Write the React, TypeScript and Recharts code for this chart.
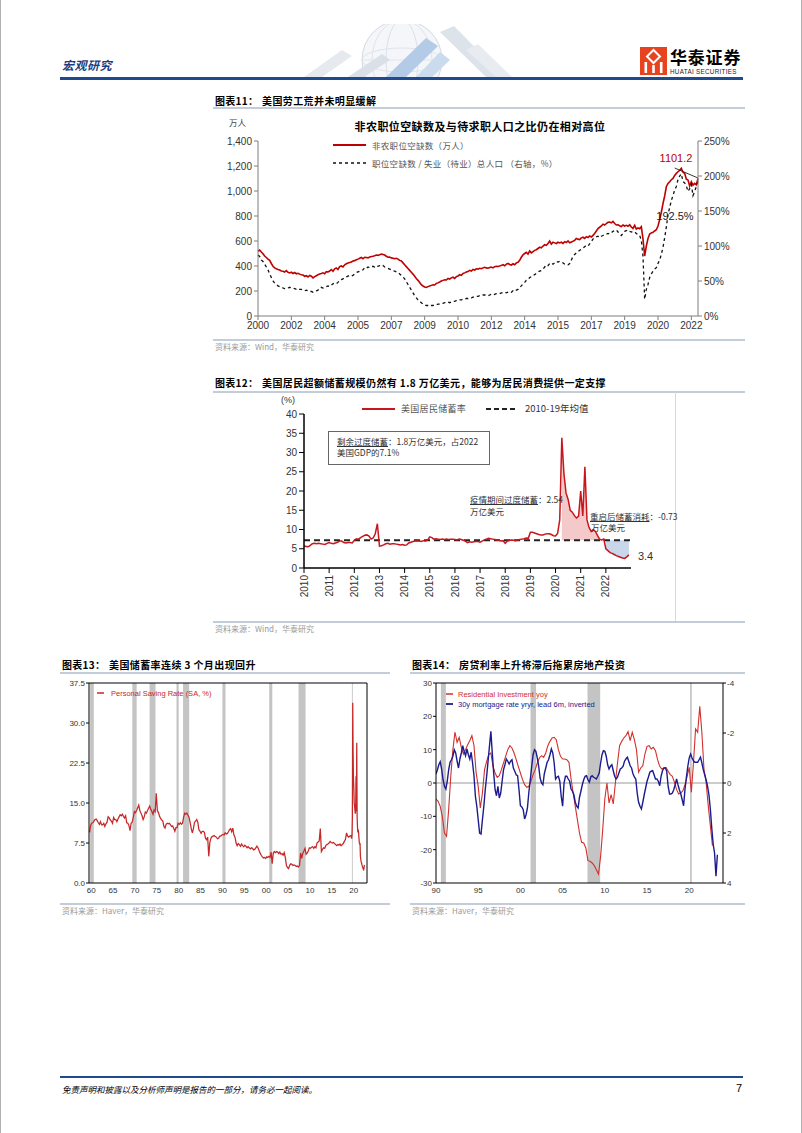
import React from 'react';
import { LineChart, ComposedChart, Line, Area, XAxis, YAxis, ReferenceLine, ReferenceArea, ReferenceDot } from 'recharts';

const CJK = '"Noto Sans CJK SC", "Noto Sans", sans-serif';
const ARIAL = '"Liberation Sans", Arial, Helvetica, sans-serif';

// ---------------- Chart 11: JOLTS openings (万人) & openings / unemployed (%) ----------------
// monthly, index 0 = 2000-12 ... index 264 = 2022-12
const c11Labels = ['2000', '2002', '2004', '2005', '2007', '2009', '2010', '2012', '2014', '2015', '2017', '2019', '2020', '2022'];
const c11Openings = [
  518,
  528, 512, 498, 480, 468, 455, 445, 420, 398, 385, 378, 372,
  368, 360, 358, 352, 363, 350, 345, 350, 340, 348, 338, 342,
  335, 330, 328, 318, 322, 312, 325, 318, 305, 315, 322, 330,
  336, 340, 345, 338, 355, 352, 360, 372, 358, 378, 385, 372,
  395, 400, 392, 410, 418, 424, 428, 432, 440, 443, 450, 455,
  462, 468, 458, 470, 468, 465, 472, 476, 478, 482, 488, 485,
  490, 495, 492, 488, 478, 470, 472, 465, 462, 458, 462, 455,
  445, 440, 425, 410, 395, 380, 365, 350, 335, 318, 300, 285,
  268, 250, 240, 232, 228, 235, 240, 245, 250, 248, 260, 265,
  272, 280, 285, 290, 288, 300, 296, 305, 310, 300, 315, 320,
  330, 325, 340, 345, 352, 355, 365, 360, 372, 368, 378, 375,
  382, 378, 385, 390, 385, 382, 388, 392, 385, 395, 398, 396,
  400, 405, 410, 402, 415, 420, 412, 408, 418, 410, 425, 430,
  445, 470, 490, 500, 510, 495, 520, 505, 515, 525, 530, 540,
  550, 545, 560, 570, 565, 580, 600, 575, 590, 585, 580, 590,
  585, 590, 580, 595, 588, 600, 585, 592, 598, 605, 620, 615,
  612, 625, 630, 620, 635, 628, 640, 632, 645, 660, 680, 700,
  710, 720, 735, 728, 740, 750, 752, 745, 757, 740, 728, 730,
  722, 715, 728, 720, 725, 718, 730, 712, 700, 725, 695, 705,
  698, 715, 616, 480, 560, 620, 656, 665, 669, 680, 690, 720,
  770, 830, 900, 960, 1034, 1060, 1074, 1090, 1101, 1125, 1141, 1154,
  1165, 1181, 1150, 1141, 1095, 1088, 1040, 1074, 1047, 1061, 1050, 1101.2,
];
const c11Ratio = [
  87,
  85, 80, 78, 74, 70, 66, 60, 55, 50, 47, 45, 43,
  42, 41, 40, 39, 39, 40, 41, 40, 40, 39, 38, 39,
  38, 38, 37, 36, 37, 36, 35, 35, 34, 35, 36, 37,
  40, 41, 40, 41, 42, 43, 42, 44, 46, 47, 46, 48,
  51, 52, 53, 55, 56, 57, 58, 57, 58, 60, 62, 63,
  64, 65, 66, 69, 68, 70, 69, 70, 71, 70, 72, 71,
  72, 71, 72, 70, 69, 68, 67, 66, 65, 64, 63, 62,
  60, 58, 56, 53, 49, 45, 41, 37, 33, 29, 26, 23,
  21, 19, 17, 16, 15, 15, 14, 15, 15, 16, 16, 17,
  17, 18, 18, 19, 19, 20, 19, 20, 21, 21, 22, 22,
  23, 23, 24, 24, 25, 25, 26, 26, 27, 27, 28, 28,
  29, 29, 30, 30, 30, 29, 30, 31, 30, 31, 32, 32,
  32, 33, 33, 34, 33, 34, 35, 34, 36, 35, 37, 38,
  41, 43, 46, 48, 51, 52, 55, 56, 58, 59, 61, 63,
  64, 65, 67, 70, 73, 72, 75, 76, 74, 76, 78, 77,
  78, 77, 76, 74, 73, 73, 75, 80, 85, 88, 90, 92,
  94, 95, 97, 99, 101, 100, 103, 106, 110, 111, 113, 114,
  112, 114, 115, 116, 117, 118, 117, 119, 121, 122, 123, 120,
  117, 115, 118, 121, 122, 123, 121, 120, 121, 120, 118, 116,
  115, 108, 85, 24, 38, 45, 55, 60, 64, 67, 69, 75,
  80, 88, 98, 112, 127, 145, 155, 165, 172, 180, 185, 195,
  200, 203, 192, 190, 186, 178, 182, 188, 172, 178, 185, 192.5,
];
const c11Data = c11Openings.map((v, i) => ({ i, v, r: c11Ratio[i] }));

// ---------------- Chart 12: US personal saving rate, monthly 2010-01 .. 2022-12 ----------------
const c12Years = ['2010', '2011', '2012', '2013', '2014', '2015', '2016', '2017', '2018', '2019', '2020', '2021', '2022'];
const c12Rate = [
  5.7, 5.6, 5.5, 5.9, 6.3, 6.4, 6.3, 6.4, 6.3, 6.2, 6.1, 6.4,
  6.6, 6.4, 6.3, 6.5, 6.7, 7.0, 7.0, 6.6, 6.5, 6.6, 6.6, 6.5,
  7.2, 7.6, 7.5, 7.9, 8.2, 8.5, 8.6, 8.3, 7.5, 7.8, 8.9, 11.5,
  5.7, 5.8, 6.0, 6.3, 6.4, 6.2, 6.3, 6.3, 6.2, 6.1, 6.0, 6.1,
  5.9, 6.0, 6.5, 6.7, 6.9, 7.0, 7.0, 7.0, 6.9, 7.1, 7.0, 7.3,
  8.1, 7.9, 7.5, 7.6, 7.5, 7.4, 7.5, 7.4, 7.5, 7.4, 7.5, 7.5,
  7.4, 7.3, 7.5, 7.4, 7.2, 7.0, 6.6, 6.8, 6.7, 6.8, 6.9, 6.9,
  6.7, 7.0, 7.3, 7.5, 7.7, 7.6, 7.5, 7.4, 7.3, 7.2, 7.0, 7.1,
  6.4, 7.0, 7.2, 7.3, 7.2, 7.1, 7.3, 7.4, 7.5, 7.6, 7.8, 7.7,
  9.3, 9.3, 9.1, 8.9, 8.7, 8.6, 8.6, 8.8, 8.9, 8.9, 8.7, 8.4,
  8.3, 9.0, 12.5, 33.8, 24.5, 19.5, 17.8, 15.0, 14.5, 13.6, 13.0, 13.5,
  20.0, 13.5, 26.3, 12.5, 10.5, 9.5, 10.0, 9.5, 8.5, 7.5, 7.3, 7.5,
  5.0, 4.5, 4.0, 3.8, 3.5, 3.2, 3.0, 2.8, 2.6, 2.5, 2.9, 3.4,
];
const c12Mean = c12Rate.slice(0, 120).reduce((a, b) => a + b, 0) / 120;
const c12ExcessStart = 123; // 2020-04
const c12ExcessEnd = 143; // 2021-12
const c12DrawStart = 144; // 2022-01
const c12Data = c12Rate.map((v, i) => ({
  i,
  v,
  hi: i >= c12ExcessStart && i <= c12ExcessEnd ? [c12Mean, v] : null,
  lo: i >= c12DrawStart ? [v, c12Mean] : null,
}));

// ---------------- Chart 13: Personal saving rate 1960-2022 ----------------
const c13Quarterly = [
  9.5, 10.8, 11.2, 11.3, 11.6, 11.9, 12.0, 11.7, 11.3, 11.0, 11.5, 10.9, 10.9, 11.2, 10.6, 11.1,
  11.4, 12.4, 12.2, 11.8, 11.6, 11.2, 12.3, 11.9, 11.9, 11.5, 12.0, 12.4, 12.8, 12.6, 12.9, 12.5,
  12.2, 12.6, 11.3, 11.2, 10.8, 9.8, 11.2, 11.4, 12.3, 13.4, 13.2, 13.6, 14.1, 14.6, 13.6, 13.1,
  12.6, 11.9, 12.4, 13.3, 13.1, 13.6, 14.0, 14.4, 13.8, 13.4, 12.9, 13.7, 13.4, 16.8, 13.6, 13.2,
  12.5, 12.1, 11.8, 11.6, 10.6, 10.3, 11.0, 11.2, 11.1, 11.2, 10.9, 10.6, 10.7, 10.2, 9.7, 10.4,
  10.4, 11.2, 11.0, 11.3, 11.0, 11.2, 12.3, 13.1, 12.9, 13.1, 12.7, 12.3, 11.3, 10.2, 9.4, 10.2,
  11.4, 11.6, 11.9, 11.4, 10.0, 9.7, 9.3, 9.7, 9.7, 9.5, 8.4, 8.1, 8.6, 5.0, 7.6, 8.4,
  8.7, 8.8, 8.9, 8.7, 8.6, 8.3, 8.4, 8.8, 8.8, 9.0, 9.1, 9.0, 9.4, 9.2, 9.3, 9.6,
  10.0, 10.2, 9.6, 10.3, 9.0, 8.6, 7.5, 7.0, 7.4, 7.2, 6.9, 7.3, 7.0, 6.8, 7.1, 6.9,
  6.6, 6.8, 6.6, 6.4, 6.6, 6.5, 6.2, 6.3, 6.6, 6.9, 6.6, 6.1, 5.6, 5.2, 4.9, 4.7,
  4.8, 4.6, 4.9, 4.8, 5.0, 4.8, 5.8, 3.6, 5.6, 5.9, 5.7, 5.9, 5.8, 5.5, 5.8, 5.4,
  5.5, 5.2, 5.7, 4.8, 3.3, 2.9, 2.7, 3.3, 3.6, 3.5, 3.3, 3.4, 3.3, 3.1, 3.2, 3.0,
  3.3, 5.6, 4.6, 5.6, 6.0, 6.5, 5.4, 5.6, 6.0, 6.6, 6.5, 6.7, 6.8, 6.5, 6.8, 6.6,
  7.5, 7.7, 7.9, 10.2, 5.9, 6.3, 6.6, 6.5, 7.0, 7.2, 7.3, 7.5, 7.8, 7.6, 7.5, 7.6,
  7.4, 7.2, 7.0, 7.2, 7.1, 7.3, 7.0, 7.2, 7.4, 7.8, 8.2, 9.4, 8.8, 8.6, 8.8, 8.9,
];
const c13Monthly2020 = [
  8.3, 9.0, 12.5, 33.8, 24.5, 19.5, 17.8, 15.0, 14.5, 13.6, 13.0, 13.5,
  20.0, 13.5, 26.3, 12.5, 10.5, 9.5, 10.0, 9.5, 8.5, 7.5, 7.3, 7.5,
  5.0, 4.5, 4.0, 3.8, 3.5, 3.2, 3.0, 2.8, 2.6, 2.5, 2.9, 3.4,
];
const c13Data = [
  ...c13Quarterly.map((v, k) => ({ x: 1960 + k * 0.25 + 0.125, v })),
  ...c13Monthly2020.map((v, m) => ({ x: 2020 + (m + 0.5) / 12, v })),
];
const c13Recessions = [[1960.25, 1961.1], [1969.9, 1970.9], [1973.85, 1975.2], [1980.0, 1980.5], [1981.5, 1982.9], [1990.5, 1991.2], [2001.2, 2001.9], [2007.9, 2009.5], [2020.1, 2020.3]];
const c13Ticks = [1960, 1965, 1970, 1975, 1980, 1985, 1990, 1995, 2000, 2005, 2010, 2015, 2020];

// ---------------- Chart 14: residential investment yoy (quarterly) & 30y mortgage rate yryr (bi-monthly) ----------------
const c14ResInv = [
  -4.8, -5.5, -7, -10, -15, -16, -8, 2, 10, 15.3, 12.2, 13.7, 10.7, 8.7, 10, 11.5,
  12.7, 14.2, 11.2, 3.2, -1, -7.5, -3, 4, 6.5, 8.5, 9, 5, 3, 1.7, 2.2, 4,
  6, 8, 10, 11.2, 10.5, 9, 7, 5, 3, 1, -0.5, -1.3, -1, 0.5, 2.5, 4,
  6, 7.5, 8.2, 7.7, 9, 11.2, 12.5, 13.5, 13.7, 13, 10, 8, 7.2, 7.2, 7, 6.2,
  1.2, -3, -7, -11, -15, -17.8, -18, -19.5, -23.3, -23.5, -24, -24.8, -26, -27.3, -22, -14,
  -4.8, 0, -6, -3.5, -6.3, 0, 6, 11.2, 12.5, 13.5, 14.2, 15.4, 12.7, 15.2, 13, 10,
  3.2, 4.5, 5.2, 8.7, 11, 11.2, 10.2, 10.7, 9.7, 7, 5, 4.2, 4.5, 4.7, 3.5, 2.5,
  2, 0.2, -2, -3.3, -3, -2.3, -0.5, 2, 4.7, -2.8, 6, 16.2, 15.2, 23, 15, 4,
  0.2, -6.8, -12.8, -18.8,
];
// year-over-year change of the 30y mortgage rate (pct pts), led 6 months, every 2 months from 1990
const c14Mortgage = [
  -0.36, -0.53, -0.73, -0.85, -0.56, -0.13,
  0.13, 0.24, -0.07, -0.53, -0.83, -0.93,
  -1.07, -1.33, -1.2, -0.87, -0.6, -0.96,
  -1.2, -1.49, -1.27, -1.09, -1.36, -1.13,
  -0.96, -1.23, -0.8, -0.29, 0.53, 0.93,
  1.47, 2, 2.04, 1.47, 0.93, 0.27,
  -0.27, -0.87, -1.47, -2.07, -1.2, -0.4,
  0.27, 0.51, 0.13, 0.6, 0.4, -0.07,
  -0.53, -0.73, -0.96, -0.87, -0.76, -0.87,
  -0.93, -0.6, -0.47, -0.33, -0.29, 0.27,
  0.91, 0.96, 1.07, 1.44, 1.27, 1,
  0.37, -0.13, -0.64, -1.13, -1.33, -1.27,
  -1, -0.67, -0.2, 0, 0.07, -0.37,
  -0.6, -0.83, -0.93, -1.13, -1.36, -1.2,
  -0.8, -0.16, -0.24, -0.27, -0.07, 0.53,
  0.93, 0, -0.27, -0.27, -0.16, -0.07,
  0.24, 0.33, 0.47, 0.77, 0.93, 1,
  0.57, 0.33, 0.07, -0.13, -0.27, -0.29,
  -0.13, -0.03, -0.24, -0.29, -0.23, -0.2,
  -0.16, -0.27, -0.4, -0.8, -1.13, -1.29,
  -1.27, -1.07, -0.73, -0.56, -0.67, -0.73,
  -0.49, -0.27, -0.16, -0.23, -0.4, -0.56,
  -0.6, -0.67, -0.87, -0.96, -1.03, -0.87,
  -0.69, -0.6, -0.37, -0.24, -0.16, 0.4,
  0.77, 0.93, 1.04, 0.77, 0.47, 0.2,
  -0.07, -0.24, -0.43, -0.47, -0.49, -0.33,
  -0.16, -0.16, -0.07, 0.11, -0.27, -0.49,
  -0.6, -0.6, -0.47, 0.13, 0.44, 0.44,
  0.4, 0.27, 0.07, -0.16, 0.07, 0.27,
  0.44, 0.67, 0.91, 0.24, -0.24, -0.67,
  -1, -1.16, -1, -0.89, -0.83, -0.83,
  -0.83, -0.93, -1.03, -0.8, -0.53, -0.33,
  -0.13, 0.13, 0.47, 1.04, 1.8, 2.44,
  2.8, 3.73, 2.87,
];
const c14ResData = c14ResInv.map((v, k) => ({ x: 1990 + k * 0.25, v }));
const c14MortData = c14Mortgage.map((m, k) => ({ x: 1990 + k / 6, m }));
const c14Recessions = [[1990.58, 1991.17], [2001.2, 2001.85], [2007.95, 2009.45], [2020.1, 2020.3]];
const c14Ticks = [1990, 1995, 2000, 2005, 2010, 2015, 2020];

// ---------------- helpers ----------------
function Txt({ x, y, size = 10, color = '#000', bold = false, italic = false, font = CJK, anchor = 'start', ls = 0, children }: any) {
  const style: any = {
    position: 'absolute',
    top: y - size * 0.6,
    fontSize: size,
    lineHeight: `${size * 1.2}px`,
    color,
    fontWeight: bold ? 700 : 400,
    fontStyle: italic ? 'italic' : 'normal',
    fontFamily: font,
    whiteSpace: 'nowrap',
    letterSpacing: ls,
  };
  if (anchor === 'start') style.left = x;
  else if (anchor === 'end') style.right = 802 - x;
  else { style.left = x; style.transform = 'translateX(-50%)'; }
  return <div style={style}>{children}</div>;
}

function Rule({ x, y, w, h = 1.5, color = '#c3cdd9' }: any) {
  return <div style={{ position: 'absolute', left: x, top: y, width: w, height: h, background: color }} />;
}

function Title({ x, y, num, text }: any) {
  return (
    <>
      <Txt x={x} y={y} size={10} bold ls={0.3}>{`图表${num}：`}</Txt>
      <Txt x={x + 47} y={y} size={10} bold ls={0.4}>{text}</Txt>
    </>
  );
}

function LegLine({ x, y, w, color, dash, width = 2 }: any) {
  return (
    <svg style={{ position: 'absolute', left: x, top: y - 3 }} width={w} height={6}>
      <line x1={0} y1={3} x2={w} y2={3} stroke={color} strokeWidth={width} strokeDasharray={dash} />
    </svg>
  );
}

const annot = (text: string, dx: number, dy: number, color: string, size = 11, anchor = 'middle') => (props: any) => {
  const vb = props.viewBox || {};
  const x = (vb.x ?? 0) + (vb.width ?? 0) / 2 + dx;
  const y = (vb.y ?? 0) + (vb.height ?? 0) / 2 + dy;
  return (
    <text x={x} y={y} dy="0.35em" textAnchor={anchor} fill={color} fontSize={size} fontFamily={ARIAL}>
      {text}
    </text>
  );
};

// ---------------- header / footer ----------------
function Header() {
  return (
    <>
      <div style={{ position: 'absolute', left: 0, top: 0, width: 1, height: 1133, background: '#b0b0b0' }} />
      <div style={{ position: 'absolute', left: 801, top: 0, width: 1, height: 1133, background: '#b0b0b0' }} />
      <svg style={{ position: 'absolute', left: 290, top: 24 }} width={240} height={54}>
        <defs>
          <clipPath id="hdrclip"><rect x={0} y={0} width={240} height={53} /></clipPath>
        </defs>
        <g clipPath="url(#hdrclip)">
          <circle cx={112} cy={36} r={40} fill="#f4f6f9" stroke="#d3d9e1" />
          <ellipse cx={112} cy={36} rx={16} ry={40} fill="none" stroke="#dce1e7" />
          <ellipse cx={112} cy={36} rx={30} ry={40} fill="none" stroke="#e0e4ea" />
          <ellipse cx={112} cy={36} rx={40} ry={12} fill="none" stroke="#e0e4ea" />
          <line x1={72} y1={36} x2={152} y2={36} stroke="#e0e4ea" />
          <polygon points="14,53 52,26 62,32 32,53" fill="#e6eaef" />
          <polygon points="58,53 92,30 100,36 74,53" fill="#dae0e8" />
          <polygon points="96,53 136,14 148,22 116,53" fill="#b3cbe7" />
          <polygon points="126,53 150,28 160,36 142,53" fill="#cadbee" />
          <polygon points="150,8 196,53 214,53 164,2" fill="#dde3ea" />
          <polygon points="176,26 206,53 222,53 188,20" fill="#e8ecf1" />
        </g>
      </svg>
      <Txt x={62} y={65} size={12} bold italic color="#1d3d7d" ls={0.5}>宏观研究</Txt>
      <svg style={{ position: 'absolute', left: 639, top: 46 }} width={29} height={30}>
        <rect x={1} y={1} width={27} height={28} fill="#e8431f" />
        <polygon points="14.5,4 21,10.5 14.5,17 8,10.5" fill="none" stroke="#fff" strokeWidth={2} />
        <rect x={5.5} y={16} width={2.6} height={11} fill="#fff" />
        <rect x={13.2} y={19} width={2.6} height={8} fill="#fff" />
        <rect x={20.9} y={16} width={2.6} height={11} fill="#fff" />
      </svg>
      <Txt x={670} y={57.5} size={17} bold ls={0.8}>华泰证券</Txt>
      <Txt x={670} y={71.5} size={6.3} font={ARIAL} ls={0.3} color="#222">HUATAI SECURITIES</Txt>
      <Rule x={60} y={77} w={683} h={2.5} color="#1f4b8e" />
    </>
  );
}

function Footer() {
  return (
    <>
      <Rule x={60} y={1076} w={683} h={2} color="#1f4b8e" />
      <Txt x={62} y={1089} size={8.5} italic>免责声明和披露以及分析师声明是报告的一部分，请务必一起阅读。</Txt>
      <Txt x={742} y={1089} size={11} font={ARIAL} anchor="end">7</Txt>
    </>
  );
}

// ---------------- chart 11 ----------------
function Chart11() {
  const ticks = c11Labels.map((_, k) => k * 20);
  const last = c11Data.length - 1;
  const axisTick = { fill: '#333', fontSize: 10, fontFamily: ARIAL };
  return (
    <>
      <Title x={215} y={101} num="11" text="美国劳工荒并未明显缓解" />
      <Rule x={213} y={107} w={532} />
      <div style={{ position: 'absolute', left: 200, top: 110 }}>
        <LineChart width={560} height={240} data={c11Data} margin={{ top: 31, right: 0, bottom: 0, left: 0 }}>
          <XAxis dataKey="i" type="number" domain={[0, last]} ticks={ticks} interval={0} height={34}
            tickFormatter={(v: number) => c11Labels[Math.round(v / 20)]} stroke="#7f7f7f" tickSize={4} tick={axisTick} />
          <YAxis yAxisId="l" domain={[0, 1400]} ticks={[0, 200, 400, 600, 800, 1000, 1200, 1400]} width={58}
            tickFormatter={(v: number) => v.toLocaleString('en-US')} stroke="#7f7f7f" tickSize={4} tick={axisTick} />
          <YAxis yAxisId="r" orientation="right" domain={[0, 250]} ticks={[0, 50, 100, 150, 200, 250]} width={62}
            tickFormatter={(v: number) => `${v}%`} stroke="#7f7f7f" tickSize={4} tick={axisTick} />
          <Line yAxisId="l" dataKey="v" stroke="#c00000" strokeWidth={1.6} dot={false} isAnimationActive={false} />
          <Line yAxisId="r" dataKey="r" stroke="#111" strokeWidth={1.3} strokeDasharray="3 3" dot={false} isAnimationActive={false} />
          <ReferenceLine yAxisId="l" segment={[{ x: 250, y: 1184 }, { x: last, y: 1104 }]} stroke="#222" strokeWidth={0.9} />
          <ReferenceDot yAxisId="l" x={last} y={c11Openings[last]} r={0.01} fill="none" stroke="none"
            label={annot(String(c11Openings[last]), -22, -20, '#c00000', 11)} />
          <ReferenceDot yAxisId="r" x={last} y={c11Ratio[last]} r={0.01} fill="none" stroke="none"
            label={annot(`${c11Ratio[last]}%`, -23, 35, '#222', 11)} />
        </LineChart>
      </div>
      <Txt x={229} y={122} size={8.5} color="#444">万人</Txt>
      <Txt x={480} y={127} size={11} bold anchor="middle" ls={0.4}>非农职位空缺数及与待求职人口之比仍在相对高位</Txt>
      <LegLine x={333} y={145} w={33} color="#c00000" width={2} />
      <Txt x={372} y={145} size={8.5} color="#555" ls={0.3}>非农职位空缺数（万人）</Txt>
      <LegLine x={333} y={163} w={33} color="#111" dash="3 3" width={1.3} />
      <Txt x={372} y={163} size={8.5} color="#555" ls={0.3}>职位空缺数 / 失业（待业）总人口 （右轴，%）</Txt>
      <Rule x={213} y={339} w={532} />
      <Txt x={215} y={347} size={8} color="#9a9a9a">资料来源：Wind，华泰研究</Txt>
    </>
  );
}

// ---------------- chart 12 ----------------
function RotTick(props: any) {
  const { x, y, payload } = props;
  return (
    <text x={x} y={y} transform={`rotate(-90 ${x} ${y})`} textAnchor="end" dy={3.6} fontSize={10} fill="#333" fontFamily={ARIAL}>
      {c12Years[Math.round(payload.value / 12)]}
    </text>
  );
}

function Chart12() {
  const last = c12Data.length - 1;
  return (
    <>
      <Title x={215} y={383} num="12" text="美国居民超额储蓄规模仍然有 1.8 万亿美元，能够为居民消费提供一定支撑" />
      <Rule x={213} y={391} w={532} />
      <div style={{ position: 'absolute', left: 675, top: 392, width: 1, height: 229, background: '#d5d9de' }} />
      <div style={{ position: 'absolute', left: 240, top: 395 }}>
        <ComposedChart width={420} height={220} data={c12Data} margin={{ top: 19, right: 29, bottom: 0, left: 0 }}>
          <XAxis dataKey="i" type="number" domain={[0, 156]} ticks={c12Years.map((_, k) => k * 12)} interval={0} height={47}
            tick={<RotTick />} tickSize={5} axisLine={{ stroke: '#000', strokeWidth: 1.5 }} tickLine={{ stroke: '#000' }} />
          <YAxis domain={[0, 40]} ticks={[0, 5, 10, 15, 20, 25, 30, 35, 40]} width={64} tickSize={5}
            axisLine={{ stroke: '#000', strokeWidth: 1.5 }} tickLine={{ stroke: '#000' }}
            tick={{ fill: '#333', fontSize: 10, fontFamily: ARIAL }} />
          <Area dataKey="hi" fill="#f3c3c3" fillOpacity={0.9} stroke="none" isAnimationActive={false} connectNulls={false} />
          <Area dataKey="lo" fill="#c8d8ea" fillOpacity={1} stroke="none" isAnimationActive={false} connectNulls={false} />
          <ReferenceLine y={c12Mean} stroke="#222" strokeWidth={2} strokeDasharray="6 4" />
          <Line dataKey="v" stroke="#c8161d" strokeWidth={1.5} dot={false} isAnimationActive={false} />
          <ReferenceDot x={last} y={c12Rate[last]} r={0.01} fill="none" stroke="none"
            label={annot(String(c12Rate[last]), 9, 1, '#333', 11, 'start')} />
        </ComposedChart>
      </div>
      <Txt x={281} y={400} size={9} font={ARIAL} color="#333">(%)</Txt>
      <LegLine x={362} y={409} w={33} color="#c8161d" width={2} />
      <Txt x={401} y={409} size={9} color="#555" ls={0.3}>美国居民储蓄率</Txt>
      <LegLine x={486} y={409} w={30} color="#222" dash="5 3" width={2} />
      <Txt x={525} y={409} size={9.5} color="#333">2010-19年均值</Txt>
      <div style={{ position: 'absolute', left: 328, top: 431, width: 160, height: 32, border: '1px solid #666', background: '#fff' }} />
      <Txt x={337} y={441} size={8.5} color="#333">
        <span style={{ textDecoration: 'underline' }}>剩余过度储蓄</span>：1.8万亿美元，占2022
      </Txt>
      <Txt x={337} y={452} size={8.5} color="#333">美国GDP的7.1%</Txt>
      <Txt x={470} y={499} size={8.5} color="#333">
        <span style={{ textDecoration: 'underline' }}>疫情期间过度储蓄</span>：2.54
      </Txt>
      <Txt x={470} y={511} size={8.5} color="#333">万亿美元</Txt>
      <Txt x={590} y={516} size={8.5} color="#333">
        <span style={{ textDecoration: 'underline' }}>重启后储蓄消耗</span>：-0.73
      </Txt>
      <Txt x={591} y={527} size={8.5} color="#333">万亿美元</Txt>
      <Rule x={213} y={621} w={532} />
      <Txt x={215} y={629} size={8} color="#9a9a9a">资料来源：Wind，华泰研究</Txt>
    </>
  );
}

// ---------------- chart 13 ----------------
function Chart13() {
  const tick = { fill: '#333', fontSize: 8, fontFamily: ARIAL };
  const yTicks = [0, 7.5, 15, 22.5, 30, 37.5];
  return (
    <>
      <Title x={62} y={665} num="13" text="美国储蓄率连续 3 个月出现回升" />
      <Rule x={60} y={672} w={330} />
      <div style={{ position: 'absolute', left: 50, top: 675 }}>
        <LineChart width={345} height={225} data={c13Data} margin={{ top: 8, right: 0, bottom: 0, left: 0 }}>
          <XAxis dataKey="x" type="number" domain={[1960, 2023.55]} ticks={c13Ticks.map((t) => t + 0.5)} interval={0} height={17}
            tickFormatter={(v: number) => String(Math.floor(v) % 100).padStart(2, '0')} stroke="#000" tickSize={0} tickMargin={4} tick={tick} />
          <YAxis yAxisId="l" domain={[0, 37.5]} ticks={yTicks} width={39} tickFormatter={(v: number) => v.toFixed(1)}
            stroke="#000" tickSize={3} tickMargin={1} tick={tick} />
          <YAxis yAxisId="r" orientation="right" domain={[0, 37.5]} ticks={yTicks} width={28} tickFormatter={(v: number) => v.toFixed(1)}
            stroke="#000" tickSize={3} tickMargin={1} tick={tick} />
          {c13Recessions.map(([a, b], k) => (
            <ReferenceArea key={k} yAxisId="l" x1={a} x2={b} y1={0} y2={37.5} fill="#c4c4c4" fillOpacity={1} stroke="none" />
          ))}
          <ReferenceLine yAxisId="l" y={37.5} stroke="#000" />
          <Line yAxisId="l" dataKey="v" stroke="#c62828" strokeWidth={1.25} dot={false} isAnimationActive={false} />
        </LineChart>
      </div>
      <LegLine x={97} y={693} w={7} color="#c62828" width={1.5} />
      <Txt x={111} y={693} size={7.5} font={ARIAL} color="#c62828">Personal Saving Rate (SA, %)</Txt>
      <Rule x={60} y={903} w={330} />
      <Txt x={62} y={911} size={8} color="#9a9a9a">资料来源：Haver，华泰研究</Txt>
    </>
  );
}

// ---------------- chart 14 ----------------
function Chart14() {
  const tick = { fill: '#333', fontSize: 8, fontFamily: ARIAL };
  return (
    <>
      <Title x={412} y={665} num="14" text="房贷利率上升将滞后拖累房地产投资" />
      <Rule x={410} y={672} w={335} />
      <div style={{ position: 'absolute', left: 405, top: 675 }}>
        <LineChart width={350} height={225} margin={{ top: 8, right: 0, bottom: 0, left: 0 }}>
          <XAxis dataKey="x" type="number" domain={[1990, 2024]} ticks={c14Ticks} interval={0} height={17}
            tickFormatter={(v: number) => String(v % 100).padStart(2, '0')} stroke="#000" tickSize={0} tickMargin={4} tick={tick}
            allowDataOverflow />
          <YAxis yAxisId="l" domain={[-30, 30]} ticks={[-30, -20, -10, 0, 10, 20, 30]} width={31}
            stroke="#000" tickSize={3} tickMargin={1} tick={tick} />
          <YAxis yAxisId="r" orientation="right" reversed domain={[-4, 4]} ticks={[-4, -2, 0, 2, 4]} width={32}
            stroke="#000" tickSize={3} tickMargin={1} tick={tick} />
          {c14Recessions.map(([a, b], k) => (
            <ReferenceArea key={k} yAxisId="l" x1={a} x2={b} y1={-30} y2={30} fill="#c4c4c4" fillOpacity={1} stroke="none" />
          ))}
          <ReferenceLine yAxisId="l" y={0} stroke="#9a9a9a" />
          <ReferenceLine yAxisId="l" y={30} stroke="#000" />
          <Line yAxisId="l" data={c14ResData} dataKey="v" stroke="#d0312d" strokeWidth={1.1} dot={false} isAnimationActive={false} />
          <Line yAxisId="r" data={c14MortData} dataKey="m" stroke="#1b1b8f" strokeWidth={1.4} dot={false} isAnimationActive={false} />
        </LineChart>
      </div>
      <LegLine x={446} y={694} w={7} color="#d0312d" width={1.5} />
      <Txt x={458} y={694} size={7.5} font={ARIAL} color="#d0312d">Residential Investment yoy</Txt>
      <LegLine x={446} y={704} w={7} color="#1b1b8f" width={1.8} />
      <Txt x={458} y={704} size={7.5} font={ARIAL} color="#1b1b8f">30y mortgage rate yryr, lead 6m, inverted</Txt>
      <Rule x={410} y={903} w={335} />
      <Txt x={412} y={911} size={8} color="#9a9a9a">资料来源：Haver，华泰研究</Txt>
    </>
  );
}

export default function App() {
  return (
    <div style={{ position: 'absolute', left: 0, top: 0, width: 802, height: 1133, background: '#fff', overflow: 'hidden' }}>
      <Header />
      <Chart11 />
      <Chart12 />
      <Chart13 />
      <Chart14 />
      <Footer />
    </div>
  );
}
